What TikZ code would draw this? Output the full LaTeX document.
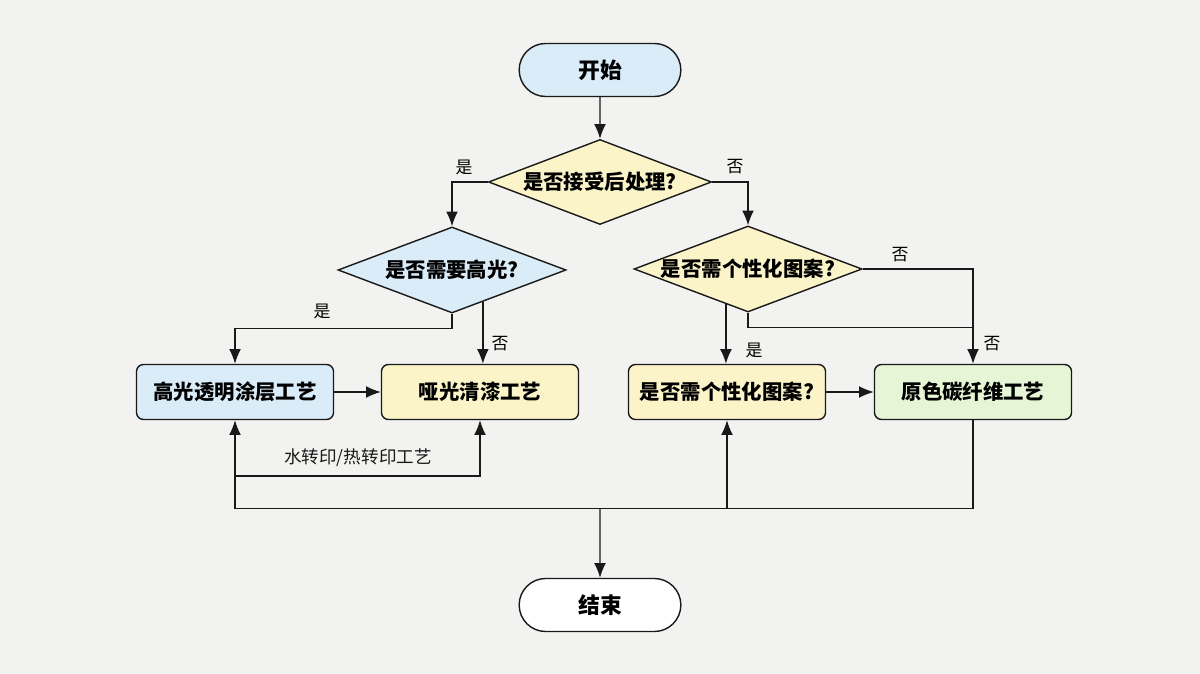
\documentclass[tikz,border=0pt]{standalone}
\usepackage{fontspec}
\setmainfont{Noto Sans CJK SC}
\usetikzlibrary{arrows.meta,shapes.geometric,shapes.misc}

\definecolor{bgc}{RGB}{242,242,240}
\definecolor{bluef}{RGB}{217,236,248}
\definecolor{yellowf}{RGB}{250,244,200}
\definecolor{greenf}{RGB}{230,245,214}
\definecolor{linec}{RGB}{25,25,25}

\begin{document}
\begin{tikzpicture}[
        x=0.025cm, y=-0.025cm,
        term/.style={draw=linec, rounded rectangle, minimum width=4.275cm, minimum height=1.325cm,
          line width=1pt, font=\fontsize{15.5}{18}\selectfont\bfseries},
        proc/.style={draw=linec, rectangle, rounded corners=5pt, minimum width=4.925cm, minimum height=1.375cm,
          line width=1pt, font=\fontsize{14.5}{17}\selectfont\bfseries},
        cond/.style={draw=linec, diamond, minimum width=5.7cm, minimum height=2.15cm, inner sep=0pt,
          line width=1pt, font=\fontsize{14.5}{17}\selectfont\bfseries},
        lbl/.style={font=\fontsize{12}{14}\selectfont, inner sep=1pt},
        arr/.style={-{Latex[length=10.5pt,width=8.5pt]}, line width=1pt, linec},
        ln/.style={line width=1pt, linec},
      ]
        \fill[bgc] (0,0) rectangle (1200,674);
        \useasboundingbox (0,0) rectangle (1200,674);

        % Start / end
        \node[term, fill=bluef] (start) at (600,70)  {开始};
        \node[term, fill=white] (stop)  at (600,605) {结束};

        % Decisions
        \node[cond, fill=yellowf, minimum width=5.575cm, minimum height=2.125cm] (d1) at (600,182)
          {\makebox[0pt]{是否接受后处理?}};
        \node[cond, fill=bluef]   (d2) at (452,270) {\makebox[0pt]{是否需要高光?}};
        \node[cond, fill=yellowf] (d3) at (748,269) {\makebox[0pt]{是否需个性化图案?}};

        % Processes
        \node[proc, fill=bluef]   (b1) at (235,392) {高光透明涂层工艺};
        \node[proc, fill=yellowf] (b2) at (480,392) {哑光清漆工艺};
        \node[proc, fill=yellowf] (b3) at (727,392) {是否需个性化图案?};
        \node[proc, fill=greenf]  (b4) at (973,392) {原色碳纤维工艺};

        \coordinate (j1) at (236,476);
        \coordinate (j2) at (600,508);

        % Top part
        \draw[arr] (start) -- (d1);
        \draw[arr] (d1.west) -| (d2.north);
        \draw[arr] (d1.east) -| (d3.north);

        % Left branch
        \draw[arr] (d2.south) -- ++(0,15) -| (b1.north);
        \draw[arr] (d2.-46) -- (d2.-46 |- b2.north);
        \draw[arr] (b1) -- (b2);

        % Right branch
        \draw[arr] (d3.east) -| (b4.north);
        \draw[ln] (d3.south) -- ++(0,15) coordinate (j3) -- (j3 -| b4.north);
        \draw[arr] (d3.-122) -- (d3.-122 |- b3.north);
        \draw[arr] (b3) -- (b4);

        % Bottom bus
        \draw[arr] (b4.south) -- ++(0,88) -| (b1.south);
        \draw[arr] (j2 -| b3.south) -- (b3.south);
        \draw[arr] (j1) -| (b2.south) node[pos=0.25, above=3pt, font=\fontsize{12.5}{14}\selectfont] (lw) {水转印/热转印工艺};
        \draw[arr] (j2) -- (stop);

        % Labels
        \node[lbl] (y1) at (464,167) {是};
        \node[lbl] (n1) at (735,167) {否};
        \node[lbl] (y2) at (322,311) {是};
        \node[lbl] (n2) at (500,344) {否};
        \node[lbl] (n3) at (900,255) {否};
        \node[lbl] (y3) at (754,350) {是};
        \node[lbl] (n4) at (992,344) {否};
      \end{tikzpicture}
\end{document}
